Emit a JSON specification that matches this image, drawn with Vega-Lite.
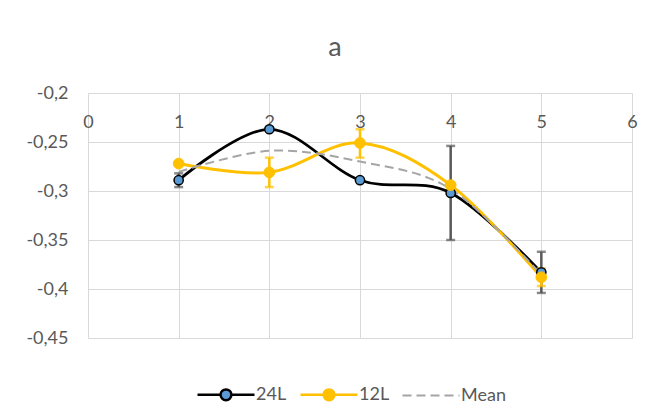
{
  "$schema": "https://vega.github.io/schema/vega-lite/v6.json",
  "width": 544,
  "height": 245,
  "autosize": {"type": "none"},
  "padding": {"left": 88, "top": 93, "right": 18, "bottom": 76},
  "background": "white",
  "config": {"font": "Lato", "view": {"stroke": null}},
  "title": {
    "text": "a",
    "font": "Lato",
    "fontSize": 27,
    "fontWeight": "normal",
    "color": "#595959",
    "anchor": "middle",
    "baseline": "alphabetic",
    "dx": -25,
    "offset": 1
  },
  "data": {
    "values": [
      {"series": "24L", "x": 1, "y": -0.289, "lo": -0.296, "hi": -0.282},
      {"series": "24L", "x": 2, "y": -0.237},
      {"series": "24L", "x": 3, "y": -0.289},
      {"series": "24L", "x": 4, "y": -0.302, "lo": -0.350, "hi": -0.254},
      {"series": "24L", "x": 5, "y": -0.383, "lo": -0.404, "hi": -0.362},
      {"series": "12L", "x": 1, "y": -0.272},
      {"series": "12L", "x": 2, "y": -0.281, "lo": -0.296, "hi": -0.266},
      {"series": "12L", "x": 3, "y": -0.251, "lo": -0.266, "hi": -0.237},
      {"series": "12L", "x": 4, "y": -0.294},
      {"series": "12L", "x": 5, "y": -0.388, "lo": -0.397, "hi": -0.379},
      {"series": "Mean", "x": 1, "y": -0.2805},
      {"series": "Mean", "x": 2, "y": -0.259},
      {"series": "Mean", "x": 3, "y": -0.270},
      {"series": "Mean", "x": 4, "y": -0.298},
      {"series": "Mean", "x": 5, "y": -0.3855}
    ]
  },
  "encoding": {
    "x": {
      "field": "x",
      "type": "quantitative",
      "scale": {"domain": [0, 6], "nice": false, "zero": false},
      "axis": {
        "orient": "top",
        "title": null,
        "values": [0, 1, 2, 3, 4, 5, 6],
        "domain": false,
        "ticks": false,
        "tickSize": 0,
        "minExtent": 0,
        "maxExtent": 0,
        "labelPadding": -20,
        "labelBaseline": "top",
        "labelFlush": false,
        "labelOverlap": false,
        "labelFont": "Lato",
        "labelFontSize": 18,
        "labelColor": "#595959",
        "gridColor": "#D9D9D9",
        "gridWidth": 1
      }
    },
    "y": {
      "field": "y",
      "type": "quantitative",
      "scale": {"domain": [-0.45, -0.2], "nice": false, "zero": false},
      "axis": {
        "title": null,
        "values": [-0.45, -0.4, -0.35, -0.3, -0.25, -0.2],
        "domain": false,
        "ticks": false,
        "tickSize": 0,
        "labelPadding": 20,
        "labelFlush": false,
        "labelOverlap": false,
        "labelFont": "Lato",
        "labelFontSize": 18,
        "labelColor": "#595959",
        "gridColor": "#D9D9D9",
        "gridWidth": 1,
        "labelExpr": "replace(toString(datum.value), '.', ',')"
      }
    }
  },
  "layer": [
    {
      "transform": [{"filter": "datum.series === '24L'"}],
      "mark": {"type": "line", "interpolate": "cardinal", "strokeWidth": 2.75},
      "encoding": {
        "color": {
          "field": "series",
          "type": "nominal",
          "scale": {"domain": ["24L", "12L", "Mean"], "range": ["#000000", "#FFC000", "#A5A5A5"]},
          "legend": {
            "title": null,
            "orient": "none",
            "legendX": 129,
            "legendY": 292.5,
            "direction": "horizontal",
            "columns": 3,
            "padding": 0,
            "symbolSize": 3249,
            "symbolStrokeWidth": 2.5,
            "labelOffset": 21,
            "columnPadding": 8,
            "labelFont": "Lato",
            "labelFontSize": 18,
            "labelColor": "#595959",
            "encode": {
              "symbols": {
                "update": {
                  "shape": {"signal": "datum.value === 'Mean' ? 'M-1,0H1' : 'M-1,0H-0.19M0.19,0H1M0.19,0A0.19,0.19,0,1,1,-0.19,0A0.19,0.19,0,1,1,0.19,0Z'"},
                  "fill": {"signal": "datum.value === '24L' ? '#5B9BD5' : datum.value === '12L' ? '#FFC000' : 'transparent'"},
                  "strokeDash": {"signal": "datum.value === 'Mean' ? [9, 5] : null"},
                  "strokeWidth": {"signal": "datum.value === 'Mean' ? 2 : 2.5"}
                }
              }
            }
          }
        }
      }
    },
    {
      "transform": [{"filter": "datum.series === '12L'"}],
      "mark": {"type": "line", "interpolate": "cardinal", "strokeWidth": 3},
      "encoding": {"color": {"field": "series", "type": "nominal"}}
    },
    {
      "transform": [{"filter": "datum.series === 'Mean'"}],
      "mark": {"type": "line", "interpolate": "cardinal", "strokeWidth": 2, "strokeDash": [9, 5]},
      "encoding": {"color": {"field": "series", "type": "nominal"}}
    },
    {
      "transform": [{"filter": "datum.series === '24L' && isValid(datum.lo)"}],
      "mark": {"type": "rule", "color": "#595959", "strokeWidth": 2.5},
      "encoding": {"y": {"field": "lo", "type": "quantitative"}, "y2": {"field": "hi"}}
    },
    {
      "transform": [{"filter": "datum.series === '24L' && isValid(datum.lo)"}],
      "mark": {"type": "tick", "orient": "horizontal", "color": "#595959", "size": 9, "thickness": 2.5},
      "encoding": {"y": {"field": "lo", "type": "quantitative"}}
    },
    {
      "transform": [{"filter": "datum.series === '24L' && isValid(datum.hi)"}],
      "mark": {"type": "tick", "orient": "horizontal", "color": "#595959", "size": 9, "thickness": 2.5},
      "encoding": {"y": {"field": "hi", "type": "quantitative"}}
    },
    {
      "transform": [{"filter": "datum.series === '12L' && isValid(datum.lo)"}],
      "mark": {"type": "rule", "color": "#FFC000", "strokeWidth": 2.5},
      "encoding": {"y": {"field": "lo", "type": "quantitative"}, "y2": {"field": "hi"}}
    },
    {
      "transform": [{"filter": "datum.series === '12L' && isValid(datum.lo)"}],
      "mark": {"type": "tick", "orient": "horizontal", "color": "#FFC000", "size": 9, "thickness": 2.5},
      "encoding": {"y": {"field": "lo", "type": "quantitative"}}
    },
    {
      "transform": [{"filter": "datum.series === '12L' && isValid(datum.hi)"}],
      "mark": {"type": "tick", "orient": "horizontal", "color": "#FFC000", "size": 9, "thickness": 2.5},
      "encoding": {"y": {"field": "hi", "type": "quantitative"}}
    },
    {
      "transform": [{"filter": "datum.series === '24L'"}],
      "mark": {"type": "circle", "size": 85, "fill": "#5B9BD5", "fillOpacity": 1, "opacity": 1, "stroke": "#000000", "strokeWidth": 1.5}
    },
    {
      "transform": [{"filter": "datum.series === '12L'"}],
      "mark": {"type": "circle", "size": 115, "fill": "#FFC000", "fillOpacity": 1, "opacity": 1, "stroke": "#FFC000", "strokeWidth": 1}
    }
  ]
}
